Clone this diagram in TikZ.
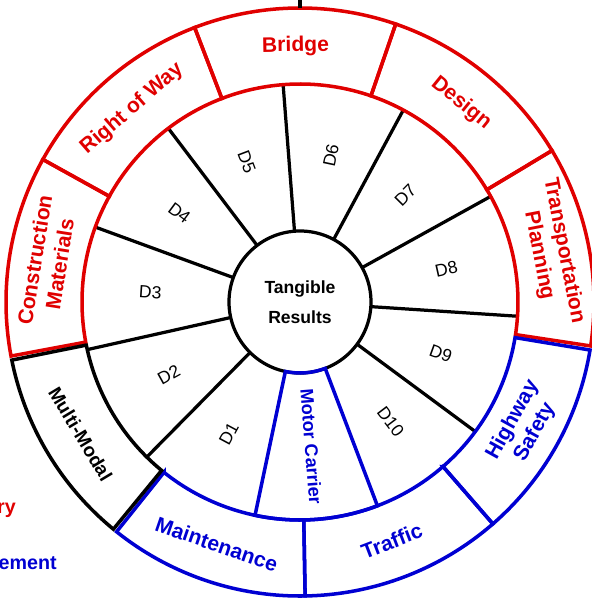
\documentclass[tikz,border=0pt]{standalone}
\usepackage{fontspec}
\setmainfont{Liberation Sans}
\usepackage{xcolor}
\definecolor{wheelred}{RGB}{224,0,0}
\definecolor{wheelblue}{RGB}{0,0,210}
\tikzset{
  seg/.style={line width=2.5pt, line join=miter},
  spoke/.style={line width=2.3pt, black},
  outlbl/.style={font=\fontsize{15}{18}\selectfont\bfseries, align=center, inner sep=0pt},
  dlbl/.style={font=\fontsize{12.5}{15}\selectfont, inner sep=0pt},
  hubtxt/.style={font=\fontsize{12.5}{21}\selectfont\bfseries, align=center, inner sep=0pt},
}

\begin{document}
\begin{tikzpicture}[scale=0.025]
   \useasboundingbox (-300,-296) rectangle (292,302);

   % spokes of the D ring
   \foreach \k in {2,...,10}
      \draw[spoke] (290.8-\k*32.727:71) -- (290.8-\k*32.727:218);

   % outer ring
   \foreach \a/\b/\c in {151/190.6/wheelred,111/151/wheelred,71/111/wheelred,31/71/wheelred,-8.6/31/wheelred,
                         -49/-9.4/wheelblue,-89/-49/wheelblue,-128.6/-89/wheelblue,-168.6/-129.4/black}
      \draw[seg,draw=\c] (\a:218) -- (\a:294)
         arc[start angle=\a,end angle=\b,radius=294] -- (\b:218)
         arc[start angle=\b,end angle=\a,radius=218] -- cycle;

   % hub
   \draw[spoke] (0,0) circle (71);
   \node[hubtxt] (hub) at (0,0) {Tangible\\Results};

   % motor carrier sector
   \draw[seg,draw=wheelblue] (258.1:71) -- (258.1:218)
      arc[start angle=258.1,end angle=290.8,radius=218] -- (290.8:71)
      arc[start angle=290.8,end angle=258.1,radius=71] -- cycle;
   \node[outlbl,font=\fontsize{13}{15}\selectfont\bfseries,text=wheelblue,rotate=-85.5] (mc) at (274.5:145) {Motor Carrier};

   % D labels
   \foreach \n in {1,...,10}{
      \pgfmathsetmacro\m{290.8-(\n+0.5)*32.727}
      \pgfmathsetmacro\r{cos(\m)>0 ? \m : \m+180}
      \node[dlbl,rotate=\r] (d\n) at (\m:150) {D\n};
   }

   % outer labels
   \foreach \a/\t/\c [count=\i] in {171/{Construction\\Materials}/wheelred,131/{Right of Way}/wheelred,
          91/Bridge/wheelred,51/Design/wheelred,11/{Transportation\\Planning}/wheelred,
          331/{Highway\\Safety}/wheelblue,291/Traffic/wheelblue,251/Maintenance/wheelblue}{
      \pgfmathsetmacro\r{\a<180 ? \a-90 : \a+90}
      \node[outlbl,text=\c,rotate=\r] (area\i) at (\a:256) {\t};
   }
   \node[outlbl,font=\fontsize{13.5}{16}\selectfont\bfseries,rotate=-59] (multi) at (211:256) {Multi-Modal};

   % top tick
   \coordinate (top) at (0,294);
   \draw[spoke] (top) -- ++(0,20);

   % legend fragments
   \node[outlbl,font=\fontsize{14}{16}\selectfont\bfseries,text=wheelred,anchor=base east] (leg1) at (-284,-211) {ry};
   \node[outlbl,font=\fontsize{14}{16}\selectfont\bfseries,text=wheelblue,anchor=base east] (leg2) at (-243,-267) {ement};
\end{tikzpicture}
\end{document}
